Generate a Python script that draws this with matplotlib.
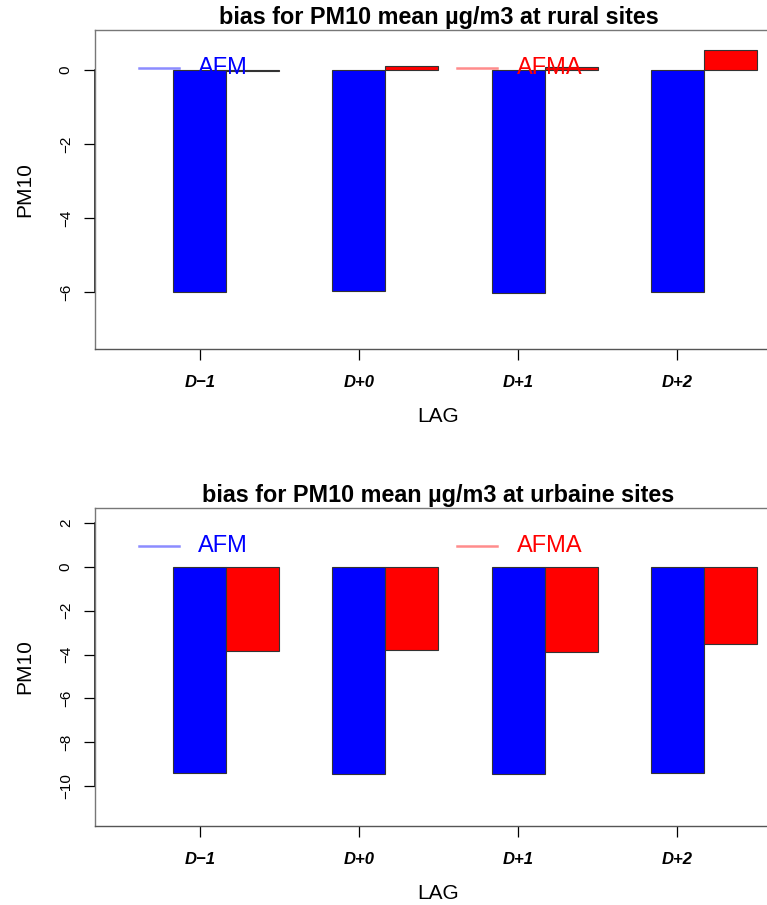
import matplotlib
matplotlib.use("Agg")
import matplotlib.pyplot as plt
import matplotlib.transforms as mtransforms
import numpy as np

plt.rcParams['font.family'] = ['Liberation Sans', 'DejaVu Sans']

# data
lags = ["D\u22121", "D+0", "D+1", "D+2"]
series = ["AFM", "AFMA"]
colors = ["#0000ff", "#ff0000"]

rural_afm = [-6.01, -5.98, -6.03, -6.0]
rural_afma = [-0.03, 0.12, 0.08, 0.54]
urban_afm = [-9.41, -9.44, -9.44, -9.42]
urban_afma = [-3.86, -3.79, -3.89, -3.50]

rural_yticks = [0, -2, -4, -6]
urban_yticks = [2, 0, -2, -4, -6, -8, -10]

fig = plt.figure(figsize=(7.67, 9.05), dpi=100)
ax1 = fig.add_axes([95/767, 556/905, 687/767, 319/905])
ax2 = fig.add_axes([95/767, 79/905, 687/767, 318/905])


def draw_panel(ax, afm, afma, yticks, ylim, title):
    n = len(lags)
    # R barplot beside=TRUE, space=c(0,1): groups of 2 bars + 1 gap
    x_afm = 1.5 + 3 * np.arange(n)
    x_afma = x_afm + 1
    ax.bar(x_afm, afm, width=1.0, color=colors[0], edgecolor="#333333", linewidth=0.8)
    ax.bar(x_afma, afma, width=1.0, color=colors[1], edgecolor="#333333", linewidth=0.8)
    ax.set_xlim(-0.48, 12.48)
    ax.set_ylim(*ylim)

    ax.set_xticks(x_afm)
    ax.set_xticklabels(lags, fontsize=12, fontweight="bold", fontstyle="italic")
    ax.set_yticks(yticks)
    ax.set_yticklabels([str(t).replace("-", "\u2212") for t in yticks], fontsize=11)
    ax.tick_params(axis="y", labelrotation=90, length=8, width=0.9, pad=8)
    ax.tick_params(axis="x", length=8, width=0.9, pad=11)
    for lab in ax.get_yticklabels():
        lab.set_va("center")

    for s in ax.spines.values():
        s.set_color("#777777")
        s.set_linewidth(1.0)
    ax.spines["bottom"].set_color("#555555")

    # axis line between first and last tick, like R's axis()
    tr_y = mtransforms.blended_transform_factory(ax.transAxes, ax.transData)
    ax.plot([0, 0], [min(yticks), max(yticks)], color="black", lw=1.1,
            transform=tr_y, clip_on=False)

    ax.set_title(title, fontsize=16.8, fontweight="bold", pad=4)
    ax.set_ylabel("PM10", fontsize=15)
    ax.yaxis.set_label_coords(-0.089, 0.5)
    ax.set_xlabel("LAG", fontsize=15)
    ax.xaxis.set_label_coords(0.5, -0.183)

    # horizontal legend without box
    ly = 0.882
    for (x0, x1, xt), name, c in zip([(0.064, 0.122, 0.150), (0.527, 0.585, 0.614)],
                                     series, colors):
        ax.plot([x0, x1], [ly, ly], color=c, lw=1.8, alpha=0.45,
                transform=ax.transAxes, clip_on=False)
        ax.text(xt, ly, name, color=c, fontsize=17, va="center", ha="left",
                transform=ax.transAxes)


draw_panel(ax1, rural_afm, rural_afma, rural_yticks, (-7.54, 1.08),
           "bias for PM10 mean \u00b5g/m3 at rural sites")
draw_panel(ax2, urban_afm, urban_afma, urban_yticks, (-11.83, 2.69),
           "bias for PM10 mean \u00b5g/m3 at urbaine sites")

fig.savefig("out.png", dpi=100)
